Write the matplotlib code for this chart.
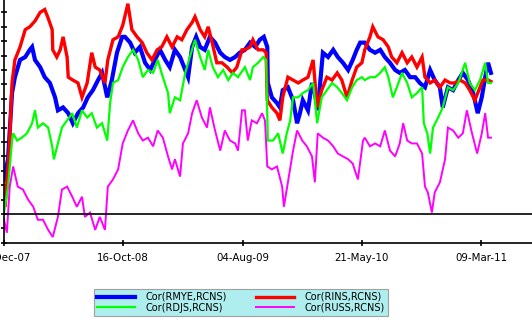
import matplotlib
matplotlib.use("Agg")
import matplotlib.pyplot as plt

# ---- data (trading-day index from 31-Dec-07, correlation value) ----
tick_days = [0, 208, 416, 624, 832]
tick_labels = ["31-Dec-07", "16-Oct-08", "04-Aug-09", "21-May-10", "09-Mar-11"]

rmye_days = [0, 7, 14, 19, 28, 37, 45, 49, 54, 63, 71, 80, 89, 94, 103, 112, 120, 129, 138, 146,
             155, 164, 171, 180, 188, 197, 206, 211, 220, 228, 237, 246, 255, 263, 272, 281, 289, 298,
             307, 316, 321, 328, 335, 342, 350, 359, 368, 377, 385, 394, 403, 411, 420, 429, 438, 446,
             453, 459, 460, 467, 476, 481, 486, 495, 504, 511, 516, 521, 530, 537, 542, 547, 556, 565,
             574, 582, 591, 600, 608, 615, 621, 629, 638, 647, 656, 664, 673, 682, 690, 699, 708, 717,
             725, 734, 743, 751, 760, 765, 774, 783, 792, 800, 809, 818, 826, 833, 839, 844, 849]
rmye_vals = [0.12, 0.19, 0.42, 0.475, 0.535, 0.545, 0.57, 0.58, 0.535, 0.51, 0.475, 0.455, 0.405, 0.36,
             0.37, 0.35, 0.315, 0.35, 0.37, 0.405, 0.43, 0.465, 0.49, 0.405, 0.465, 0.56, 0.615, 0.615,
             0.595, 0.56, 0.58, 0.525, 0.50, 0.535, 0.57, 0.535, 0.51, 0.57, 0.545, 0.50, 0.475, 0.58,
             0.615, 0.58, 0.57, 0.615, 0.595, 0.56, 0.545, 0.535, 0.545, 0.56, 0.57, 0.595, 0.58, 0.605,
             0.615, 0.58, 0.455, 0.405, 0.385, 0.37, 0.43, 0.44, 0.395, 0.315, 0.35, 0.395, 0.36, 0.455,
             0.42, 0.36, 0.56, 0.545, 0.57, 0.545, 0.525, 0.50, 0.535, 0.57, 0.595, 0.595, 0.57, 0.56,
             0.57, 0.545, 0.525, 0.50, 0.49, 0.50, 0.475, 0.475, 0.455, 0.44, 0.50, 0.465, 0.44, 0.37,
             0.44, 0.43, 0.465, 0.49, 0.465, 0.42, 0.35, 0.405, 0.475, 0.525, 0.49]

rins_days = [2, 9, 14, 19, 28, 37, 45, 54, 63, 71, 77, 84, 85, 92, 98, 103, 110, 112, 120, 129, 136,
             145, 153, 159, 167, 176, 181, 190, 199, 207, 216, 223, 232, 241, 249, 258, 267, 275, 284,
             293, 302, 310, 319, 328, 333, 342, 350, 356, 363, 371, 380, 389, 398, 406, 415, 420, 429,
             434, 443, 452, 457, 459, 467, 476, 481, 486, 495, 504, 513, 521, 530, 539, 546, 554, 563,
             572, 581, 589, 598, 607, 615, 624, 629, 638, 643, 652, 661, 670, 676, 685, 694, 703, 711,
             720, 729, 734, 743, 751, 760, 769, 778, 786, 795, 804, 812, 821, 826, 835, 844, 849]
rins_vals = [0.03, 0.22, 0.455, 0.535, 0.58, 0.64, 0.65, 0.67, 0.70, 0.71, 0.68, 0.64, 0.57, 0.545,
             0.57, 0.615, 0.545, 0.475, 0.465, 0.455, 0.405, 0.455, 0.56, 0.51, 0.50, 0.455, 0.535,
             0.605, 0.615, 0.655, 0.73, 0.64, 0.615, 0.595, 0.56, 0.535, 0.57, 0.58, 0.615, 0.58, 0.615,
             0.605, 0.64, 0.665, 0.685, 0.64, 0.615, 0.65, 0.595, 0.525, 0.525, 0.51, 0.49, 0.51, 0.57,
             0.57, 0.58, 0.605, 0.57, 0.57, 0.56, 0.395, 0.37, 0.35, 0.325, 0.405, 0.475, 0.465, 0.455,
             0.465, 0.475, 0.535, 0.37, 0.43, 0.475, 0.465, 0.49, 0.465, 0.405, 0.465, 0.51, 0.525, 0.57,
             0.615, 0.65, 0.615, 0.605, 0.58, 0.545, 0.525, 0.56, 0.525, 0.545, 0.51, 0.545, 0.475,
             0.455, 0.465, 0.44, 0.465, 0.455, 0.455, 0.465, 0.455, 0.43, 0.395, 0.42, 0.465, 0.465, 0.46]

rdjs_days = [0, 7, 14, 16, 23, 31, 40, 49, 54, 59, 68, 77, 84, 87, 94, 101, 110, 119, 127, 136, 145,
             153, 162, 171, 180, 185, 190, 199, 207, 216, 225, 234, 242, 251, 260, 268, 277, 286, 289,
             298, 307, 316, 324, 333, 342, 350, 356, 364, 373, 382, 391, 399, 408, 420, 429, 434, 443,
             452, 457, 460, 469, 478, 486, 493, 499, 504, 513, 521, 530, 539, 546, 554, 563, 572, 581,
             589, 598, 607, 615, 624, 629, 638, 647, 656, 664, 670, 678, 685, 694, 703, 711, 720, 729,
             732, 738, 743, 748, 757, 765, 774, 783, 792, 804, 812, 821, 830, 839, 844, 849]
rdjs_vals = [0.005, 0.095, 0.255, 0.28, 0.255, 0.265, 0.28, 0.315, 0.36, 0.30, 0.315, 0.30, 0.235,
             0.19, 0.245, 0.30, 0.325, 0.35, 0.30, 0.36, 0.335, 0.35, 0.30, 0.315, 0.255, 0.385, 0.455,
             0.465, 0.51, 0.545, 0.57, 0.535, 0.475, 0.50, 0.49, 0.535, 0.475, 0.42, 0.35, 0.405, 0.395,
             0.49, 0.545, 0.605, 0.545, 0.50, 0.57, 0.51, 0.475, 0.50, 0.465, 0.49, 0.475, 0.51, 0.465,
             0.51, 0.525, 0.545, 0.535, 0.255, 0.255, 0.28, 0.21, 0.28, 0.325, 0.405, 0.405, 0.42, 0.43,
             0.455, 0.315, 0.405, 0.43, 0.455, 0.44, 0.42, 0.395, 0.44, 0.465, 0.475, 0.465, 0.475,
             0.475, 0.49, 0.51, 0.475, 0.405, 0.44, 0.49, 0.455, 0.405, 0.42, 0.44, 0.315, 0.28, 0.21,
             0.30, 0.335, 0.37, 0.44, 0.43, 0.455, 0.525, 0.455, 0.43, 0.465, 0.525, 0.455, 0.455]

russ_days = [0, 5, 10, 16, 24, 33, 42, 51, 59, 68, 77, 85, 94, 101, 110, 119, 127, 136, 141, 150, 159,
             167, 176, 181, 190, 199, 207, 216, 225, 234, 242, 251, 260, 268, 277, 286, 293, 298, 307,
             312, 321, 328, 336, 345, 354, 359, 368, 377, 385, 394, 403, 408, 415, 420, 425, 432, 441,
             450, 455, 459, 467, 476, 485, 488, 495, 504, 511, 520, 528, 537, 542, 547, 556, 565, 574,
             582, 591, 600, 608, 617, 626, 629, 638, 647, 656, 664, 673, 682, 690, 696, 703, 711, 720,
             729, 734, 739, 746, 751, 760, 769, 774, 783, 792, 800, 807, 816, 825, 833, 839, 844, 849]
russ_vals = [-0.02, -0.065, 0.095, 0.165, 0.095, 0.085, 0.05, 0.025, -0.02, -0.02, -0.055, -0.08,
             -0.01, 0.085, 0.095, 0.06, 0.025, 0.06, -0.01, 0.005, -0.055, -0.01, -0.055, 0.095, 0.12,
             0.155, 0.245, 0.29, 0.325, 0.28, 0.255, 0.265, 0.235, 0.29, 0.265, 0.20, 0.155, 0.19, 0.13,
             0.245, 0.28, 0.35, 0.395, 0.335, 0.30, 0.37, 0.29, 0.22, 0.29, 0.255, 0.245, 0.22, 0.36,
             0.36, 0.255, 0.325, 0.315, 0.35, 0.325, 0.165, 0.155, 0.165, 0.095, 0.025, 0.11, 0.22, 0.29,
             0.255, 0.235, 0.20, 0.11, 0.28, 0.265, 0.255, 0.235, 0.21, 0.20, 0.19, 0.175, 0.12, 0.255,
             0.265, 0.235, 0.245, 0.235, 0.29, 0.22, 0.20, 0.245, 0.315, 0.255, 0.245, 0.245, 0.21,
             0.095, 0.075, 0.005, 0.075, 0.11, 0.19, 0.30, 0.29, 0.265, 0.28, 0.36, 0.28, 0.21, 0.28,
             0.35, 0.265, 0.265]

labels = ["Cor(RMYE,RCNS)", "Cor(RINS,RCNS)", "Cor(RDJS,RCNS)", "Cor(RUSS,RCNS)"]
colors = ["#0000ff", "#ff0000", "#00ff00", "#ff00ff"]
widths = [3.0, 2.4, 1.6, 1.4]

fig = plt.figure(figsize=(5.32, 3.19), dpi=100)
ax = fig.add_axes([4 / 532, 76 / 319, 528 / 532, 243 / 319])

series = [(rmye_days, rmye_vals), (rins_days, rins_vals), (rdjs_days, rdjs_vals), (russ_days, russ_vals)]
handles = []
for (d, v), lab, c, w in zip(series, labels, colors, widths):
    h, = ax.plot(d, v, color=c, lw=w, label=lab, solid_joinstyle="miter")
    handles.append(h)

ax.axhline(0, color="black", lw=1.2, zorder=5)

ax.set_xlim(0, 920.6)
ax.set_ylim(-0.1007, 0.743)
ax.set_xticks(tick_days)
ax.set_xticklabels(tick_labels, fontsize=7.4)
ax.set_yticks([i * 0.05 for i in range(-2, 15)])
ax.tick_params(axis="x", direction="inout", length=5, width=1.2, pad=4.5)
ax.tick_params(axis="y", direction="inout", length=5, width=1.2, labelleft=False)
for s in ["top", "right"]:
    ax.spines[s].set_visible(False)
for s in ["left", "bottom"]:
    ax.spines[s].set_linewidth(1.2)

order = [0, 2, 1, 3]
leg = fig.legend([handles[i] for i in order], [labels[i] for i in order],
                 ncol=2, loc="upper left", bbox_to_anchor=(94 / 532, 1 - 289 / 319),
                 fontsize=7, frameon=True, fancybox=False, facecolor="#afeeee",
                 edgecolor="#a0a0a0", framealpha=1, handlelength=3.9, handletextpad=1.1,
                 columnspacing=3.0, labelspacing=0.1, borderpad=0.3, borderaxespad=0)
leg.get_frame().set_linewidth(0.8)

fig.savefig("out.png", dpi=100)
